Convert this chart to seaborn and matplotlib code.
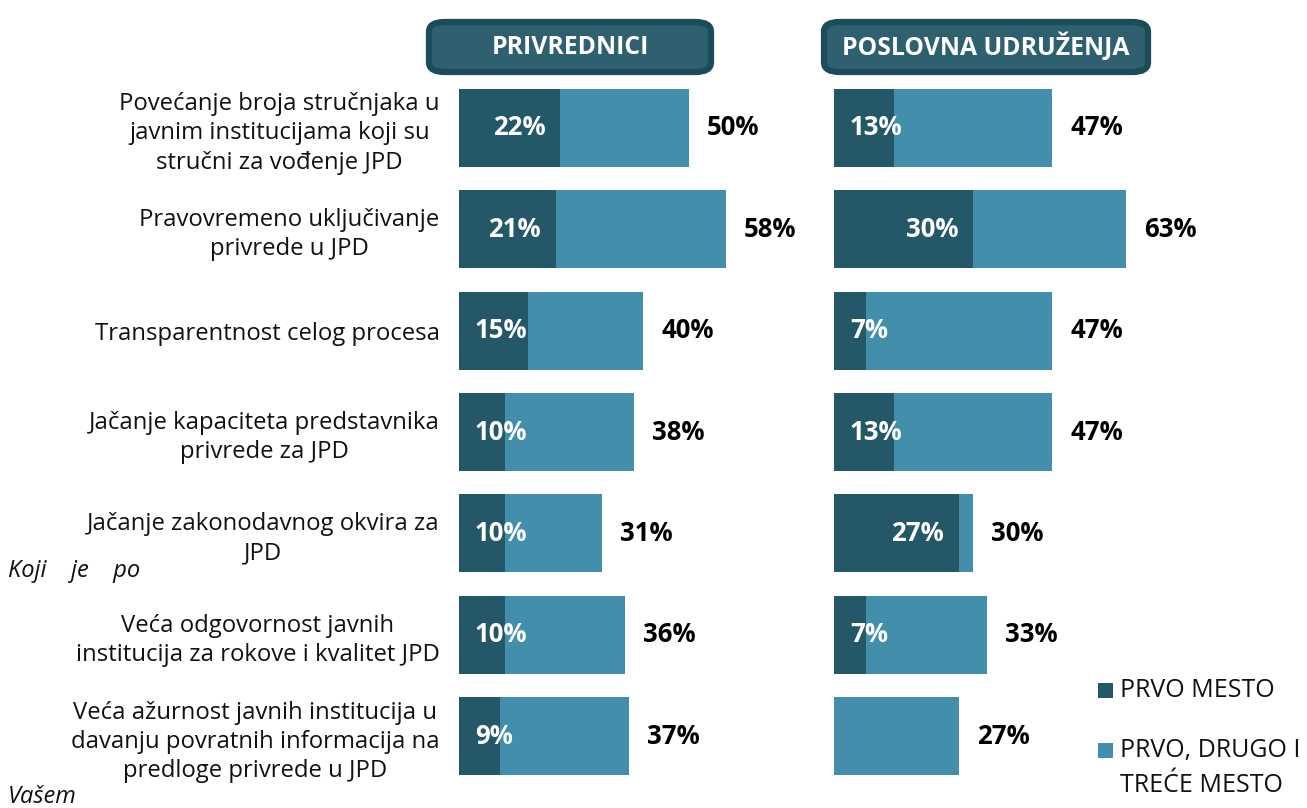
import matplotlib
matplotlib.use("Agg")
import matplotlib.pyplot as plt
from matplotlib.patches import FancyBboxPatch, Rectangle
import seaborn as sns
import pandas as pd

# Data
categories = [
    "Povećanje broja stručnjaka u\njavnim institucijama koji su\nstručni za vođenje JPD",
    "Pravovremeno uključivanje\nprivrede u JPD",
    "Transparentnost celog procesa",
    "Jačanje kapaciteta predstavnika\nprivrede za JPD",
    "Jačanje zakonodavnog okvira za\nJPD",
    "Veća odgovornost javnih\ninstitucija za rokove i kvalitet JPD",
    "Veća ažurnost javnih institucija u\ndavanju povratnih informacija na\npredloge privrede u JPD",
]
groups = ["PRIVREDNICI", "POSLOVNA UDRUŽENJA"]
first_place = {
    "PRIVREDNICI": [22, 21, 15, 10, 10, 10, 9],
    "POSLOVNA UDRUŽENJA": [13, 30, 7, 13, 27, 7, 0],
}
top_three = {
    "PRIVREDNICI": [50, 58, 40, 38, 31, 36, 37],
    "POSLOVNA UDRUŽENJA": [47, 63, 47, 47, 30, 33, 27],
}
legend_labels = ["PRVO MESTO", "PRVO, DRUGO I\nTREĆE MESTO"]

DARK = "#245868"
LIGHT = "#428EAB"
HEADER = "#2E6070"
HEADER_EDGE = "#1B4C58"
NUM_FONT = ["Open Sans", "DejaVu Sans"]

sns.set_theme(style="white")
plt.rcParams["font.family"] = ["Open Sans", "DejaVu Sans"]

W, H = 1307, 808
fig = plt.figure(figsize=(W / 100, H / 100), dpi=100)
renderer = fig.canvas.get_renderer()

y_top_px, y_bot_px = 77.3, 786.7
ax_bottom = 1 - y_bot_px / H
ax_height = (y_bot_px - y_top_px) / H

panels = [
    dict(x0=459, scale=4.6, xmax=75, header=(425, 18, 290, 58)),
    dict(x0=834, scale=4.64, xmax=100, header=(820, 18, 332, 58)),
]

PT = 72 / 100  # points per pixel at 100 dpi

for gi, (group, p) in enumerate(zip(groups, panels)):
    width_px = p["xmax"] * p["scale"]
    ax = fig.add_axes([p["x0"] / W, ax_bottom, width_px / W, ax_height])
    df = pd.DataFrame({
        "cat": categories,
        "first": first_place[group],
        "top3": top_three[group],
    })
    sns.barplot(data=df, y="cat", x="top3", color=LIGHT, orient="h",
                width=0.77, saturation=1, ax=ax)
    sns.barplot(data=df, y="cat", x="first", color=DARK, orient="h",
                width=0.77, saturation=1, ax=ax)
    for bar in ax.patches:
        bar.set_edgecolor("none")
    ax.set_xlim(0, p["xmax"])
    ax.set_ylim(6.5, -0.5)
    ax.set_xlabel("")
    ax.set_ylabel("")
    ax.set_xticks([])
    sns.despine(ax=ax, left=True, bottom=True)
    if gi == 0:
        ax.set_yticks(range(len(categories)))
        ax.set_yticklabels(categories, fontsize=17.2, color="#111111",
                           multialignment="center", linespacing=1.28)
        ax.tick_params(axis="y", length=0, pad=14)
    else:
        ax.set_yticks([])

    x_start = ax.transData.transform((0, 0))[0]
    for i, (f, t) in enumerate(zip(df["first"], df["top3"])):
        if f > 0:
            # label sits inside the end of the dark bar, but never
            # closer than 16 px to the bar start
            lab = ax.annotate(f"{f}%", xy=(f, i), xytext=(-15 * PT, 0),
                              textcoords="offset points", ha="right",
                              va="center", color="white", fontsize=18.5,
                              fontweight="bold", family=NUM_FONT)
            left = lab.get_window_extent(renderer).x0
            if left < x_start + 16:
                lab.xy = (0, i)
                lab.set_position((16 * PT, 0))
                lab.set_ha("left")
        ax.annotate(f"{t}%", xy=(t, i), xytext=(13, 0),
                    textcoords="offset points", ha="left", va="center",
                    color="black", fontsize=18.5, fontweight="bold",
                    family=NUM_FONT)

    # panel header
    hx, hy, hw, hh = p["header"]
    box = FancyBboxPatch(((hx + 4) / W, 1 - (hy + hh - 4) / H),
                         (hw - 8) / W, (hh - 8) / H,
                         boxstyle="round,pad=0,rounding_size=0.012",
                         transform=fig.transFigure, facecolor=HEADER,
                         edgecolor=HEADER_EDGE, linewidth=4.5)
    fig.patches.append(box)
    fig.text((hx + hw / 2) / W, 1 - (hy + hh / 2) / H, group,
             ha="center", va="center", color="white", fontsize=17.8,
             fontweight="bold", family=NUM_FONT)

# legend
for (ly, label, col) in [(690, legend_labels[0], DARK),
                         (750, legend_labels[1], LIGHT)]:
    fig.patches.append(Rectangle((1098 / W, 1 - (ly + 8) / H), 15 / W, 15 / H,
                                 transform=fig.transFigure, facecolor=col,
                                 edgecolor="none"))
    fig.text(1120 / W, 1 - (ly - 12) / H, label, ha="left", va="top",
             fontsize=18, color="#111111", linespacing=1.55)

# axis title fragments
fig.text(8 / W, 1 - 571 / H, "Koji    je    po", ha="left", va="center",
         fontsize=17, style="italic", color="#111111")
fig.text(8 / W, 1 - 797 / H, "Vašem", ha="left", va="center",
         fontsize=17, style="italic", color="#111111")

fig.savefig("out.png", dpi=100, facecolor="white")
